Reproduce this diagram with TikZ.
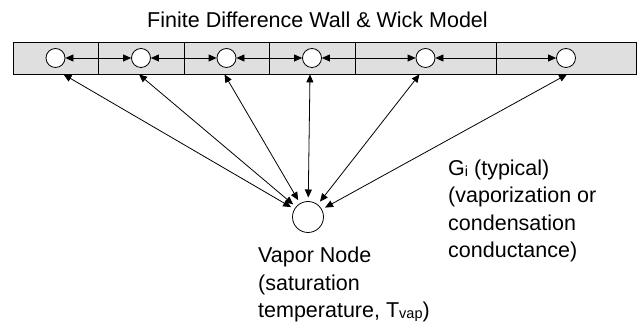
\documentclass[tikz,border=0pt]{standalone}
\usepackage{fontspec}
\setmainfont{Liberation Sans}
\usepackage{tikz}
\usetikzlibrary{arrows.meta, positioning, calc}

\newcommand{\lowtext}[1]{\raisebox{-1pt}{\fontsize{14.5}{14.5}\selectfont #1}}

\begin{document}
\begin{tikzpicture}[x=1pt, y=1pt,
                cell/.style={rectangle, draw, line width=0.8pt, fill=gray!25, minimum height=32pt, inner sep=0pt},
                wallnode/.style={circle, draw, line width=0.8pt, fill=white, minimum size=19pt, inner sep=0pt},
                vapnode/.style={circle, draw, line width=0.8pt, fill=white, minimum size=31pt, inner sep=0pt, outer sep=4pt},
                label/.style={font=\fontsize{21.5}{27.5}\selectfont, align=left, inner sep=0pt},
                biarrow/.style={{Triangle[length=8pt,width=7pt]}-{Triangle[length=8pt,width=7pt]}, line width=0.8pt}]
                \useasboundingbox (0,0) rectangle (641,326);
                \node[label, anchor=base] (title) at (317.5,298) {Finite Difference Wall \& Wick Model};

                % wall and wick cells
                \node[cell, minimum width=85pt] (c1) at (55.5,268) {};
                \node[cell, minimum width=86pt] (c2) at (141,268) {};
                \node[cell, minimum width=85pt] (c3) at (226.5,268) {};
                \node[cell, minimum width=86pt] (c4) at (312,268) {};
                \node[cell, minimum width=141pt] (c5) at (425.5,268) {};
                \node[cell, minimum width=140pt] (c6) at (566,268) {};

                \node[wallnode] (n1) at (c1) {};
                \node[wallnode] (n2) at (c2) {};
                \node[wallnode] (n3) at (c3) {};
                \node[wallnode] (n4) at (c4) {};
                \node[wallnode] (n5) at (c5) {};
                \node[wallnode] (n6) at (c6) {};

                \node[vapnode] (vap) at (308,109) {};

                % base is the last line of each label
                \node[label, anchor=base west] (vaplabel) at (258,8) {Vapor Node\\(saturation\\temperature, T\lowtext{vap})};
                \node[label, anchor=base west] (glabel) at (448,68) {G\lowtext{i} (typical)\\(vaporization or\\condensation\\conductance)};

                \draw[biarrow] (n1) -- (n2);
                \draw[biarrow] (n2) -- (n3);
                \draw[biarrow] (n3) -- (n4);
                \draw[biarrow] (n4) -- (n5);
                \draw[biarrow] (n5) -- (n6);

                \draw[biarrow] (vap) -- ($(n1 |- c1.south)+(8,0)$);
                \draw[biarrow] (vap) -- ($(n2 |- c2.south)+(-2,0)$);
                \draw[biarrow] (vap) -- ($(n3 |- c3.south)+(-2,0)$);
                \draw[biarrow] (vap) -- ($(n4 |- c4.south)+(-2,0)$);
                \draw[biarrow] (vap) -- ($(n5 |- c5.south)+(-6,0)$);
                \draw[biarrow] (vap) -- ($(n6 |- c6.south)+(1,0)$);
            \end{tikzpicture}
\end{document}
